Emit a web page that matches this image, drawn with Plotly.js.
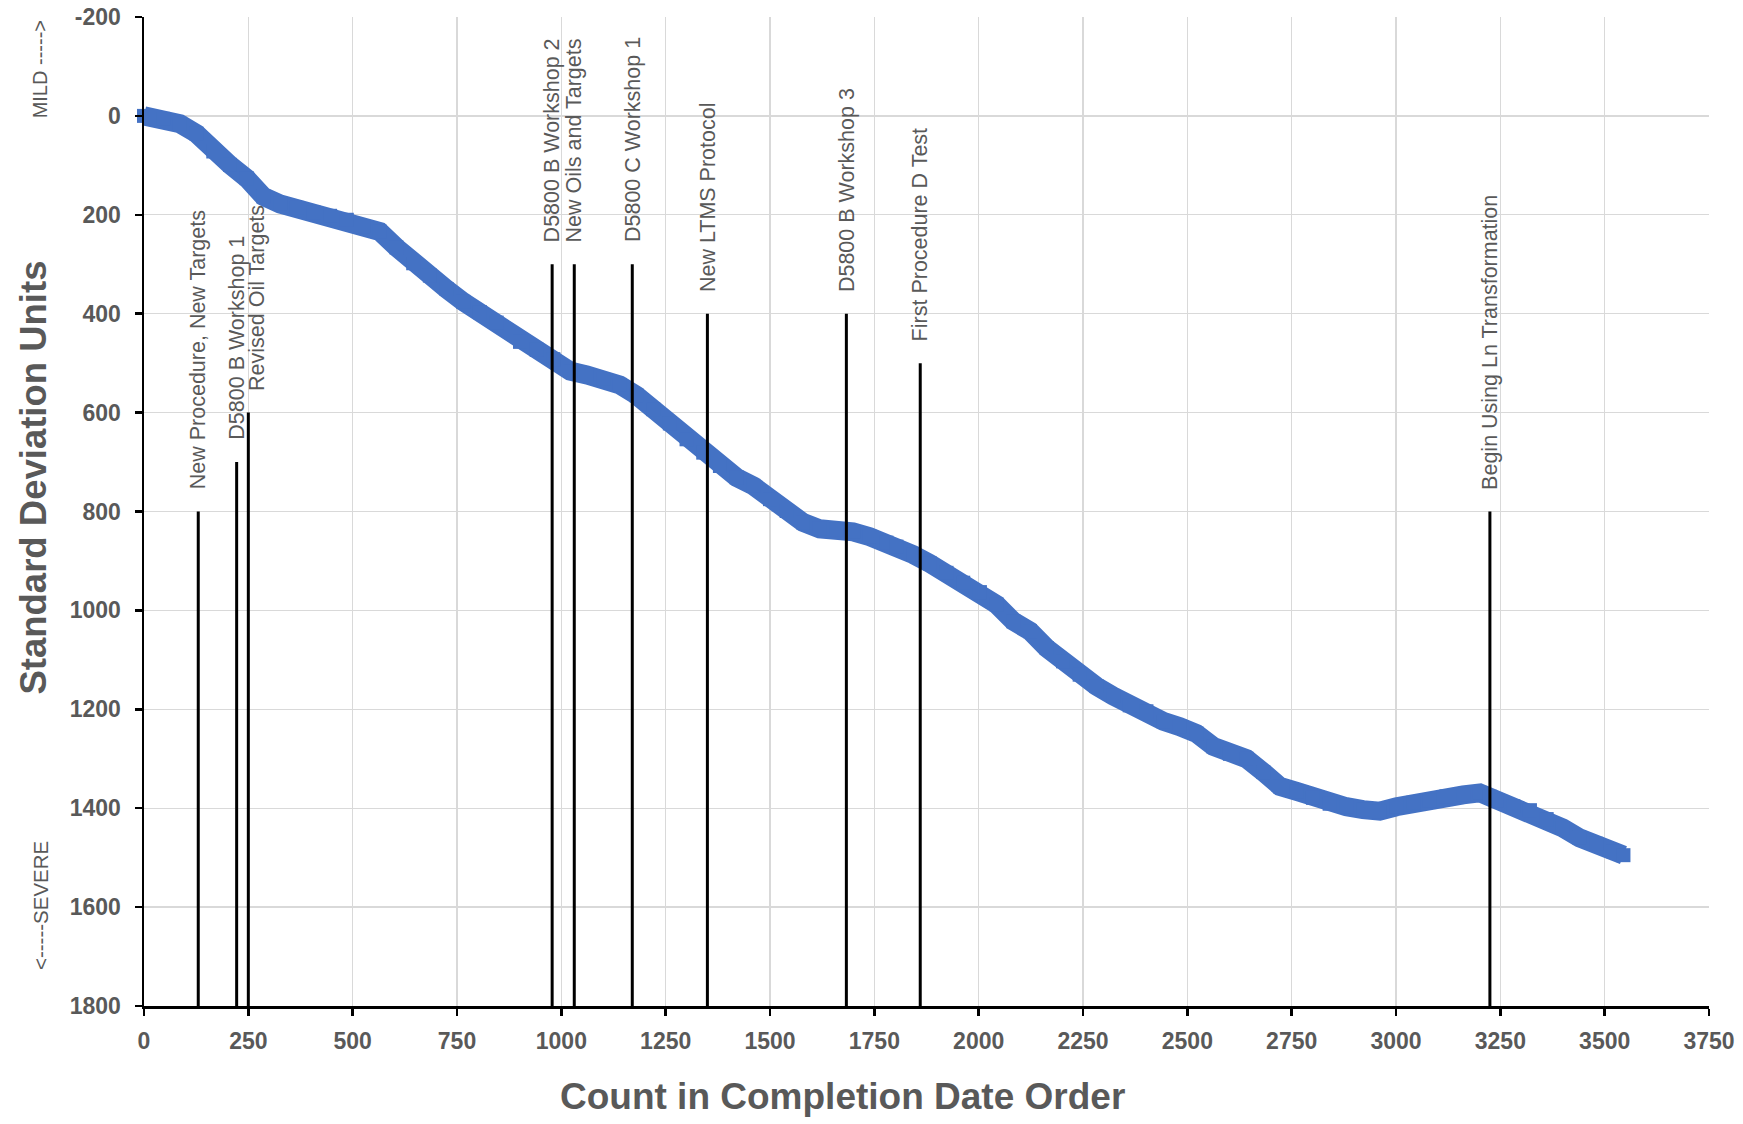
<!DOCTYPE html>
<html>
<head>
<meta charset="utf-8">
<script src="https://cdn.plot.ly/plotly-3.0.1.min.js"></script>
<style>
  html, body { margin: 0; padding: 0; background: #ffffff; }
  #chart { width: 1743px; height: 1124px; }
</style>
</head>
<body>
<div id="chart"></div>
<script>
// Cumulative severity trend: count of tests vs. standard deviation units
const counts = [0, 46, 86, 126, 166, 206, 246, 286, 326, 366, 406, 446, 486, 525, 565, 605, 645, 685, 725, 765,
  805, 845, 901, 941, 981, 1021, 1061, 1100, 1140, 1180, 1220, 1260, 1300, 1340, 1380, 1420, 1460, 1500, 1540, 1579,
  1619, 1659, 1699, 1739, 1779, 1803, 1843, 1883, 1923, 1963, 2003, 2043, 2083, 2123, 2163, 2202, 2242, 2282, 2322, 2362,
  2402, 2442, 2482, 2522, 2562, 2602, 2642, 2682, 2722, 2762, 2801, 2841, 2881, 2921, 2961, 3001, 3041, 3081, 3121, 3161,
  3201, 3225, 3241, 3281, 3321, 3361, 3400, 3440, 3480, 3520, 3545];
const sdUnits = [0, 6, 16, 36, 72, 99, 126, 163, 178, 186, 195, 202, 210, 223, 234, 266, 298, 323, 350, 376,
  397, 418, 457, 473, 492, 516, 524, 532, 544, 565, 593, 622, 654, 681, 708, 731, 748, 775, 799, 822,
  835, 837, 841, 851, 863, 871, 887, 905, 924, 944, 963, 988, 1022, 1042, 1076, 1103, 1130, 1153, 1173, 1192,
  1204, 1224, 1235, 1249, 1275, 1290, 1300, 1327, 1356, 1366, 1379, 1391, 1397, 1403, 1406, 1397, 1389, 1384, 1376, 1373,
  1369, 1377, 1384, 1396, 1404, 1422, 1440, 1460, 1472, 1487, 1495];

// Procedure / workshop events
const eventCounts = [130, 222, 250, 978, 1031, 1170, 1350, 1683, 1860, 3225];
const eventTops = [800, 700, 600, 300, 300, 300, 400, 400, 500, 800];
const eventLabels = [
  "New Procedure, New Targets",
  "D5800 B Workshop 1",
  "Revised Oil Targets",
  "D5800 B Workshop 2",
  "New Oils and Targets",
  "D5800 C Workshop 1",
  "New LTMS Protocol",
  "D5800 B Workshop 3",
  "First Procedure D Test",
  "Begin Using Ln Transformation"
];

// Axis ticks
const xTicks = [0, 250, 500, 750, 1000, 1250, 1500, 1750, 2000, 2250, 2500, 2750, 3000, 3250, 3500, 3750];
const yTicks = [-200, 0, 200, 400, 600, 800, 1000, 1200, 1400, 1600, 1800];

const yFloor = yTicks[yTicks.length - 1];
const grey = '#595959';
const blue = '#4472C4';
const fontFamily = 'Liberation Sans, Arial, sans-serif';

// Event marker lines, drawn from the bottom of the axis up to each event's height
const evX = [], evY = [];
eventCounts.forEach((c, i) => {
  evX.push(c, c, null);
  evY.push(yFloor, eventTops[i], null);
});

const traces = [
  {
    type: 'scatter',
    mode: 'lines+markers',
    x: counts,
    y: sdUnits,
    line: { color: blue, width: 19 },
    marker: { symbol: 'square', size: 14, color: blue },
    cliponaxis: false,
    hoverinfo: 'x+y',
    showlegend: false
  },
  {
    type: 'scatter',
    mode: 'lines',
    x: evX,
    y: evY,
    line: { color: '#000000', width: 3 },
    hoverinfo: 'skip',
    showlegend: false
  }
];

// Small label nudges to keep neighbouring texts apart
const labelShift = { 2: 8 };

const annotations = eventLabels.map((t, i) => ({
  x: eventCounts[i],
  y: eventTops[i],
  xref: 'x',
  yref: 'y',
  text: t,
  textangle: -90,
  xanchor: 'center',
  yanchor: 'bottom',
  xshift: labelShift[i] || 0,
  yshift: 20,
  showarrow: false,
  font: { family: fontFamily, size: 21.5, color: grey }
}));

annotations.push(
  {
    xref: 'paper', yref: 'paper', x: -0.0705, y: 0.534,
    text: 'Standard Deviation Units', textangle: -90,
    xanchor: 'center', yanchor: 'middle', showarrow: false,
    font: { family: fontFamily, size: 36.5, color: grey, weight: 'bold' }
  },
  {
    xref: 'paper', yref: 'paper', x: 0.4464, y: -0.092,
    text: 'Count in Completion Date Order',
    xanchor: 'center', yanchor: 'middle', showarrow: false,
    font: { family: fontFamily, size: 37, color: grey, weight: 'bold' }
  },
  {
    xref: 'paper', yref: 'paper', x: -0.0665, y: 0.947,
    text: 'MILD -----&gt;', textangle: -90,
    xanchor: 'center', yanchor: 'middle', showarrow: false,
    font: { family: fontFamily, size: 20, color: grey }
  },
  {
    xref: 'paper', yref: 'paper', x: -0.0665, y: 0.102,
    text: '&lt;-----SEVERE', textangle: -90,
    xanchor: 'center', yanchor: 'middle', showarrow: false,
    font: { family: fontFamily, size: 20.5, color: grey }
  }
);

const tickFont = { family: fontFamily, size: 23, color: grey, weight: 'bold' };

const axisCommon = {
  showgrid: true,
  gridcolor: '#d9d9d9',
  gridwidth: 1.3,
  zeroline: false,
  showline: true,
  linecolor: '#000000',
  linewidth: 2.5,
  ticks: 'outside',
  ticklen: 7,
  tickwidth: 2.5,
  tickcolor: '#000000',
  tickfont: tickFont
};

const layout = {
  width: 1743,
  height: 1124,
  margin: { l: 144, r: 34, t: 17, b: 118 },
  paper_bgcolor: '#ffffff',
  plot_bgcolor: '#ffffff',
  showlegend: false,
  xaxis: Object.assign({}, axisCommon, {
    range: [xTicks[0], xTicks[xTicks.length - 1]],
    tickvals: xTicks,
    ticktext: xTicks.map(String),
    ticklabelstandoff: 6
  }),
  yaxis: Object.assign({}, axisCommon, {
    range: [yFloor, yTicks[0]],
    tickvals: yTicks,
    ticktext: yTicks.map(String),
    ticklabelstandoff: 9
  }),
  annotations: annotations
};

Plotly.newPlot('chart', traces, layout, { displayModeBar: false, staticPlot: true });
</script>
</body>
</html>
